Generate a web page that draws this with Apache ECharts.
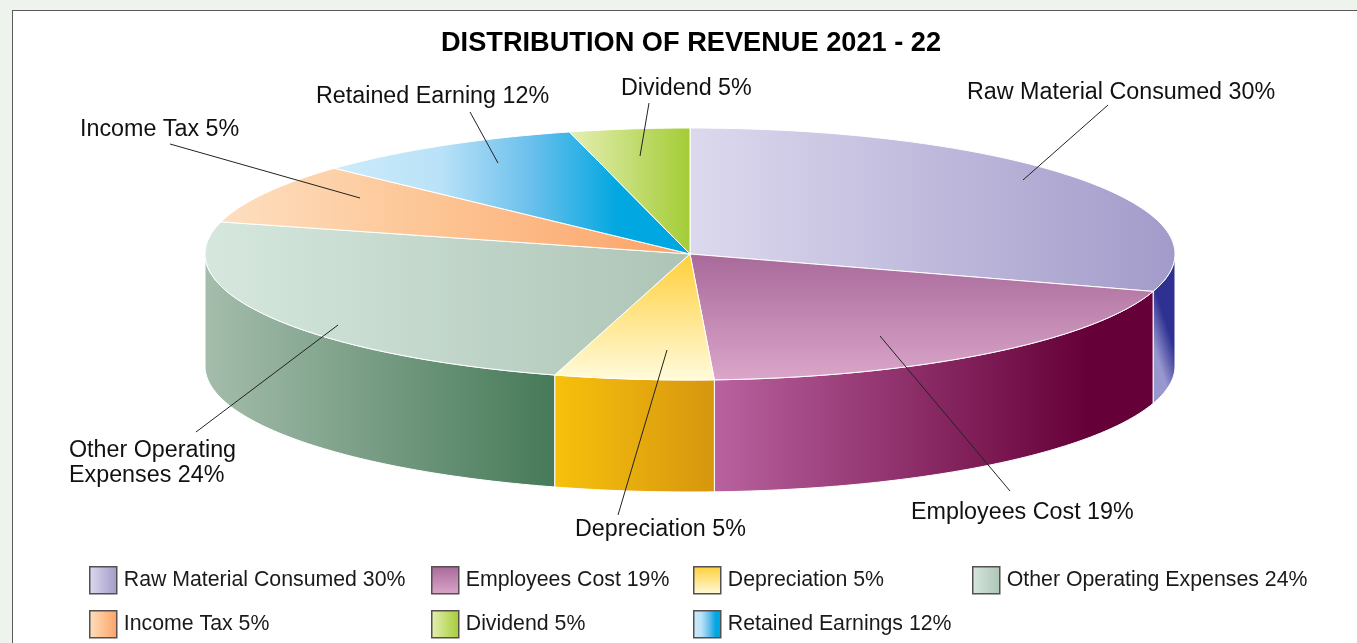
<!DOCTYPE html>
<html>
<head>
<meta charset="utf-8">
<title>Distribution of Revenue 2021 - 22</title>
<script src="https://cdn.jsdelivr.net/npm/echarts@6/dist/echarts.min.js"></script>
<style>
  html, body { margin: 0; height: 100%; background: #eef3ee; overflow: hidden; }
  #panel { position: absolute; left: 12px; top: 10px; width: 1360px; height: 650px; background: #fff; border: 1px solid #5a5a5a; }
  #main { position: absolute; left: 0; top: 0; width: 1357px; height: 643px; }
</style>
</head>
<body>
<div id="panel"></div>
<div id="main"></div>
<script>
// legend names, the chart's own labels differ slightly from them
var categories = ['Raw Material Consumed', 'Employees Cost', 'Depreciation', 'Other Operating Expenses', 'Income Tax', 'Retained Earnings', 'Dividend'];
var percents = [30, 19, 5, 24, 5, 12, 5];
// share of the circle as the slices are actually drawn (not to scale with the printed %)
var drawnShares = [29.8, 19.4, 5.3, 24.6, 7.8, 9.1, 4.0];
var sliceLabels = ['Raw Material Consumed 30%', 'Employees Cost 19%', 'Depreciation 5%', 'Other Operating\nExpenses 24%', 'Income Tax 5%', 'Retained Earning 12%', 'Dividend 5%'];

var FONT = '"Liberation Sans", Arial, sans-serif';
var CX = 690, CY = 254, RX = 485, RY = 126, DEPTH = 112;

function grad(horizontal, stops) {
  return new echarts.graphic.LinearGradient(0, 0, horizontal ? 1 : 0, horizontal ? 0 : 1,
    stops.map(function (s) { return { offset: s[0], color: s[1] }; }));
}

var topFills = [
  grad(true, [[0, '#dcd9ee'], [1, '#a29bca']]),
  grad(false, [[0, '#a8699a'], [1, '#dba6ca']]),
  grad(false, [[0, '#ffcf3a'], [1, '#fffbdc']]),
  grad(true, [[0, '#d6e8de'], [1, '#adc4b6']]),
  grad(true, [[0, '#fddfc0'], [0.45, '#fdc594'], [1, '#fba268']]),
  grad(true, [[0, '#cdebfb'], [0.3, '#b9e2f8'], [0.55, '#6cc0ec'], [0.8, '#00a7e1'], [1, '#00a7e1']]),
  grad(true, [[0, '#e6efb4'], [1, '#a3cc36']])
];
var wallFills = [
  // the blue wall runs slightly diagonal, light at the bottom left
  new echarts.graphic.LinearGradient(0, 0.6, 1, 0.55, [
    { offset: 0, color: '#9898cf' },
    { offset: 0.8, color: '#2e3192' },
    { offset: 1, color: '#2e3192' }
  ]),
  grad(true, [[0, '#b8629f'], [0.85, '#660038'], [1, '#660038']]),
  grad(true, [[0, '#f7c10c'], [1, '#d6960f']]),
  grad(true, [[0, '#a5bdac'], [1, '#467a58']]),
  null, null, null
];
var legendSpots = [[89, 566], [431, 566], [693, 566], [972, 566], [89, 610], [693, 610], [431, 610]];

function pt(deg, drop) {
  var a = deg * Math.PI / 180;
  return [CX + RX * Math.sin(a), CY - RY * Math.cos(a) + drop];
}

function arc(from, to, drop) {
  var pts = [], n = Math.max(2, Math.ceil(Math.abs(to - from)));
  for (var i = 0; i <= n; i++) pts.push(pt(from + (to - from) * i / n, drop));
  return pts;
}

var totalShare = drawnShares.reduce(function (a, b) { return a + b; }, 0);
var sum = 0;
var sliceAngles = drawnShares.map(function (v) {
  var start = sum / totalShare * 360;
  sum += v;
  return [start, sum / totalShare * 360];
});

var series = categories.map(function (name, i) {
  return {
    type: 'custom',
    name: name + ' ' + percents[i] + '%',
    coordinateSystem: 'none',
    silent: true,
    animation: false,
    itemStyle: { color: topFills[i] },
    data: [drawnShares[i]],
    renderItem: function () {
      var kids = [];
      var a = Math.max(sliceAngles[i][0], 90), b = Math.min(sliceAngles[i][1], 270);
      // only the part of the rim facing the viewer gets a wall
      if (b > a) {
        kids.push({
          type: 'polygon',
          shape: { points: arc(a, b, 0).concat(arc(b, a, DEPTH)) },
          style: { fill: wallFills[i], stroke: '#fff', lineWidth: 1 }
        });
      }
      kids.push({
        type: 'polygon',
        shape: { points: [[CX, CY]].concat(arc(sliceAngles[i][0], sliceAngles[i][1], 0)) },
        style: { fill: topFills[i], stroke: '#fff', lineWidth: 1 }
      });
      return { type: 'group', children: kids };
    }
  };
});

// every entry is its own legend so the columns line up like the original
var legends = categories.map(function (name, i) {
  return {
    left: legendSpots[i][0],
    top: legendSpots[i][1],
    orient: 'horizontal',
    padding: 0,
    itemWidth: 27,
    itemHeight: 27,
    itemGap: 0,
    selectedMode: false,
    icon: 'rect',
    textStyle: { fontFamily: FONT, fontSize: 21.3, color: '#1a1a1a', padding: [0, 0, 0, 2] },
    data: [{ name: name + ' ' + percents[i] + '%', itemStyle: { color: topFills[i], borderColor: '#55504f', borderWidth: 1.5 } }]
  };
});

function label(text, x, y) {
  return { type: 'text', z: 10, x: x, y: y, style: { text: text, font: '23.3px ' + FONT, fill: '#111', lineHeight: 25, verticalAlign: 'middle' } };
}
function leader(x1, y1, x2, y2) {
  return { type: 'line', z: 10, shape: { x1: x1, y1: y1, x2: x2, y2: y2 }, style: { stroke: '#222', lineWidth: 1 } };
}

var chart = echarts.init(document.getElementById('main'));
chart.setOption({
  animation: false,
  backgroundColor: 'transparent',
  title: {
    text: 'DISTRIBUTION OF REVENUE 2021 - 22',
    left: 691,
    top: 30,
    textAlign: 'center',
    padding: 0,
    textStyle: { fontFamily: FONT, fontSize: 27.2, fontWeight: 'bold', color: '#000' }
  },
  legend: legends,
  series: series,
  graphic: [
    label(sliceLabels[0], 967, 93),
    label(sliceLabels[1], 911, 513),
    label(sliceLabels[2], 575, 530),
    label(sliceLabels[3], 69, 463),
    label(sliceLabels[4], 80, 130),
    label(sliceLabels[5], 316, 97),
    label(sliceLabels[6], 621, 89),
    leader(1108, 105, 1023, 180),
    leader(1010, 491, 880, 336),
    leader(667, 350, 618, 515),
    leader(338, 325, 196, 432),
    leader(170, 144, 360, 198),
    leader(470, 112, 498, 163),
    leader(649, 103, 640, 156)
  ]
});
</script>
</body>
</html>
